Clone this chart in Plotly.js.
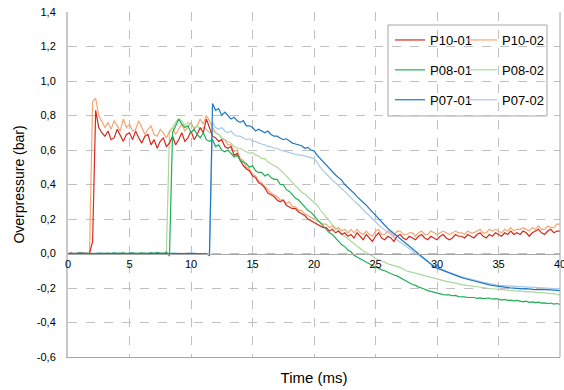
<!DOCTYPE html>
<html>
<head>
<meta charset="utf-8">
<script src="https://cdn.plot.ly/plotly-3.0.1.min.js"></script>
<style>html,body{margin:0;padding:0;background:#fff;}#chart{width:564px;height:390px;}</style>
</head>
<body>
<div id="chart"></div>
<script>
// Sampling times (ms)
const time = [
0,0.25,0.5,0.75, 1,1.25,1.5,1.75, 2,2.25,2.5,2.75, 3,3.25,3.5,3.75, 4,4.25,4.5,4.75,
5,5.25,5.5,5.75, 6,6.25,6.5,6.75, 7,7.25,7.5,7.75, 8,8.25,8.5,8.75, 9,9.25,9.5,9.75,
10,10.25,10.5,10.75, 11,11.25,11.5,11.75, 12,12.25,12.5,12.75, 13,13.25,13.5,13.75, 14,14.25,14.5,14.75,
15,15.25,15.5,15.75, 16,16.25,16.5,16.75, 17,17.25,17.5,17.75, 18,18.25,18.5,18.75, 19,19.25,19.5,19.75,
20,20.25,20.5,20.75, 21,21.25,21.5,21.75, 22,22.25,22.5,22.75, 23,23.25,23.5,23.75, 24,24.25,24.5,24.75,
25,25.25,25.5,25.75, 26,26.25,26.5,26.75, 27,27.25,27.5,27.75, 28,28.25,28.5,28.75, 29,29.25,29.5,29.75,
30,30.25,30.5,30.75, 31,31.25,31.5,31.75, 32,32.25,32.5,32.75, 33,33.25,33.5,33.75, 34,34.25,34.5,34.75,
35,35.25,35.5,35.75, 36,36.25,36.5,36.75, 37,37.25,37.5,37.75, 38,38.25,38.5,38.75, 39,39.25,39.5,39.75,
40];

const seriesNames = ['P10-01','P10-02','P08-01','P08-02','P07-01','P07-02'];

const p10_01 = [
0,0.002,-0.001,0.001, 0,0.002,0,0.001, 0.07,0.83,0.73,0.70, 0.68,0.71,0.66,0.67, 0.72,0.68,0.65,0.69,
0.70,0.66,0.71,0.67, 0.64,0.68,0.69,0.63, 0.66,0.61,0.65,0.67, 0.62,0.64,0.68,0.63, 0.66,0.70,0.65,0.67,
0.71,0.66,0.69,0.73, 0.70,0.78,0.73,0.68, 0.67,0.65,0.66,0.62, 0.61,0.62,0.57,0.58, 0.54,0.51,0.49,0.48,
0.45,0.44,0.41,0.40, 0.38,0.35,0.34,0.33, 0.31,0.30,0.31,0.28, 0.27,0.26,0.26,0.24, 0.23,0.22,0.20,0.19,
0.18,0.17,0.16,0.15, 0.15,0.13,0.14,0.12, 0.13,0.11,0.12,0.10, 0.11,0.09,0.12,0.10, 0.08,0.11,0.09,0.07,
0.10,0.12,0.09,0.08, 0.10,0.09,0.07,0.10, 0.11,0.09,0.08,0.10, 0.09,0.08,0.10,0.11, 0.09,0.08,0.10,0.09,
0.08,0.10,0.11,0.09, 0.08,0.09,0.11,0.10, 0.10,0.09,0.11,0.10, 0.09,0.11,0.12,0.10, 0.09,0.11,0.10,0.12,
0.11,0.10,0.12,0.11, 0.13,0.11,0.12,0.11, 0.13,0.12,0.10,0.12, 0.13,0.14,0.12,0.11, 0.13,0.14,0.12,0.13,
0.13];

const p10_02 = [
0,0.001,0.002,0, 0.001,0,0.002,0.001, 0.88,0.90,0.80,0.76, 0.73,0.76,0.72,0.77, 0.74,0.71,0.78,0.73,
0.75,0.71,0.72,0.77, 0.73,0.69,0.72,0.74, 0.69,0.68,0.72,0.70, 0.67,0.71,0.73,0.69, 0.72,0.75,0.71,0.73,
0.76,0.72,0.74,0.78, 0.75,0.80,0.77,0.73, 0.70,0.69,0.67,0.66, 0.63,0.63,0.59,0.60, 0.55,0.54,0.50,0.49,
0.46,0.45,0.42,0.41, 0.39,0.37,0.35,0.34, 0.33,0.31,0.31,0.29, 0.30,0.27,0.27,0.25, 0.25,0.23,0.22,0.21,
0.20,0.19,0.18,0.17, 0.17,0.15,0.16,0.14, 0.15,0.13,0.14,0.12, 0.14,0.12,0.14,0.12, 0.11,0.13,0.11,0.10,
0.13,0.14,0.11,0.11, 0.13,0.12,0.10,0.13, 0.13,0.11,0.11,0.12, 0.12,0.10,0.12,0.13, 0.11,0.11,0.13,0.12,
0.11,0.12,0.13,0.12, 0.11,0.12,0.13,0.12, 0.12,0.11,0.13,0.12, 0.12,0.13,0.14,0.12, 0.12,0.14,0.13,0.14,
0.13,0.12,0.14,0.13, 0.15,0.13,0.14,0.14, 0.15,0.14,0.13,0.15, 0.14,0.16,0.14,0.14, 0.16,0.15,0.15,0.17,
0.17];

const p08_01 = [
0,0.002,-0.002,0.001, 0.003,-0.001,0.002,0, 0.001,-0.002,0.003,0.001, -0.001,0.002,0,0.003, -0.002,0.001,0.003,-0.001,
0.002,0.004,-0.002,0.001, 0.003,-0.003,0.002,0.005, -0.002,0.006,0.001,-0.004, 0.008,-0.015,0.70,0.74, 0.78,0.75,0.73,0.74,
0.70,0.72,0.69,0.67, 0.70,0.66,0.65,0.66, 0.62,0.63,0.60,0.59, 0.60,0.58,0.56,0.57, 0.54,0.53,0.52,0.50,
0.51,0.48,0.47,0.47, 0.45,0.46,0.44,0.43, 0.43,0.40,0.40,0.37, 0.36,0.34,0.32,0.31, 0.29,0.27,0.25,0.24,
0.22,0.20,0.18,0.16, 0.14,0.12,0.11,0.09, 0.07,0.05,0.04,0.02, 0.01,-0.01,-0.02,-0.03, -0.04,-0.05,-0.06,-0.07,
-0.08,-0.085,-0.095,-0.10, -0.11,-0.115,-0.125,-0.13, -0.14,-0.15,-0.16,-0.17, -0.18,-0.185,-0.195,-0.20, -0.21,-0.215,-0.22,-0.225,
-0.23,-0.232,-0.238,-0.24, -0.24,-0.245,-0.243,-0.25, -0.25,-0.252,-0.255,-0.253, -0.255,-0.26,-0.257,-0.262, -0.26,-0.258,-0.265,-0.262,
-0.265,-0.27,-0.266,-0.272, -0.27,-0.275,-0.272,-0.278, -0.28,-0.276,-0.283,-0.28, -0.285,-0.282,-0.288,-0.286, -0.29,-0.287,-0.293,-0.29,
-0.295];

const p08_02 = [
0,-0.001,0.002,0, 0.001,0.002,-0.001,0.001, 0,0.002,0.001,-0.001, 0.002,0,0.001,0.002, -0.001,0.002,0,0.001,
0.002,-0.001,0.003,0, 0.001,0.003,-0.002,0.002, 0.004,-0.001,0.003,0.005, 0.002,0.70,0.73,0.76, 0.78,0.77,0.74,0.76,
0.75,0.73,0.74,0.72, 0.73,0.72,0.70,0.71, 0.70,0.69,0.67,0.66, 0.65,0.64,0.62,0.61, 0.61,0.60,0.59,0.58,
0.585,0.57,0.565,0.55, 0.55,0.53,0.52,0.51, 0.50,0.485,0.47,0.45, 0.43,0.41,0.39,0.37, 0.355,0.345,0.33,0.315,
0.30,0.28,0.255,0.23, 0.21,0.19,0.165,0.15, 0.13,0.115,0.10,0.085, 0.07,0.055,0.04,0.025, 0.015,0.005,-0.005,-0.015,
-0.03,-0.035,-0.045,-0.05, -0.06,-0.063,-0.07,-0.075, -0.08,-0.09,-0.10,-0.105, -0.11,-0.115,-0.12,-0.125, -0.13,-0.135,-0.14,-0.145,
-0.15,-0.153,-0.158,-0.162, -0.165,-0.17,-0.172,-0.176, -0.18,-0.182,-0.186,-0.188, -0.19,-0.194,-0.196,-0.198, -0.20,-0.203,-0.205,-0.207,
-0.21,-0.211,-0.213,-0.212, -0.215,-0.216,-0.218,-0.217, -0.22,-0.222,-0.221,-0.224, -0.225,-0.227,-0.226,-0.229, -0.23,-0.233,-0.232,-0.236,
-0.24];

const p07_01 = [
0,0.001,-0.001,0, 0.001,0,-0.001,0.001, 0,-0.001,0.001,0, 0.001,0,-0.001,0.001, 0,0.001,0,-0.001,
0.001,0,0.001,-0.001, 0,0.001,-0.001,0, 0.001,0,0.001,-0.001, 0,-0.001,0.001,0, 0.001,-0.002,0,0.001,
-0.001,0.001,0,-0.001, 0.001,-0.002,-0.012,0.87, 0.83,0.84,0.80,0.82, 0.80,0.78,0.79,0.77, 0.76,0.77,0.74,0.74,
0.73,0.71,0.72,0.71, 0.70,0.71,0.69,0.68, 0.68,0.67,0.66,0.665, 0.65,0.64,0.635,0.63, 0.625,0.61,0.615,0.60,
0.595,0.57,0.55,0.53, 0.51,0.49,0.47,0.455, 0.44,0.425,0.40,0.385, 0.37,0.35,0.33,0.315, 0.30,0.28,0.26,0.24,
0.22,0.20,0.18,0.16, 0.145,0.13,0.115,0.10, 0.09,0.075,0.06,0.045, 0.03,0.015,0.0,-0.015, -0.03,-0.045,-0.06,-0.075,
-0.085,-0.092,-0.10,-0.108, -0.115,-0.12,-0.13,-0.135, -0.14,-0.145,-0.15,-0.155, -0.16,-0.165,-0.17,-0.173, -0.18,-0.182,-0.185,-0.188,
-0.19,-0.192,-0.195,-0.197, -0.20,-0.201,-0.203,-0.202, -0.205,-0.204,-0.207,-0.208, -0.21,-0.209,-0.211,-0.21, -0.21,-0.212,-0.214,-0.213,
-0.215];

const p07_02 = [
0,-0.001,0.001,0, -0.001,0.001,0,0.001, -0.001,0,0.001,-0.001, 0,0.001,-0.001,0, 0.001,0,-0.001,0.001,
0,0.001,0,-0.001, 0.001,-0.001,0,0.001, 0,0.001,-0.001,0, 0.001,0,-0.001,0.002, -0.001,0,0.001,-0.001,
0.001,0,-0.001,0.001, 0,0.001,-0.005,0.76, 0.73,0.72,0.73,0.71, 0.70,0.71,0.69,0.68, 0.68,0.67,0.66,0.665,
0.65,0.65,0.64,0.635, 0.63,0.62,0.62,0.61, 0.61,0.60,0.595,0.59, 0.585,0.58,0.575,0.57, 0.57,0.565,0.56,0.555,
0.55,0.53,0.50,0.48, 0.46,0.44,0.425,0.41, 0.39,0.375,0.36,0.34, 0.32,0.305,0.29,0.27, 0.25,0.235,0.22,0.20,
0.18,0.165,0.15,0.135, 0.12,0.11,0.095,0.08, 0.065,0.055,0.04,0.03, 0.015,0.0,-0.01,-0.025, -0.035,-0.05,-0.06,-0.07,
-0.08,-0.088,-0.095,-0.103, -0.11,-0.117,-0.125,-0.13, -0.135,-0.14,-0.145,-0.15, -0.155,-0.16,-0.165,-0.167, -0.17,-0.175,-0.18,-0.182,
-0.185,-0.186,-0.188,-0.19, -0.19,-0.192,-0.194,-0.193, -0.195,-0.197,-0.196,-0.199, -0.20,-0.199,-0.201,-0.20, -0.20,-0.202,-0.203,-0.204,
-0.205];

const xTickVals = [0,5,10,15,20,25,30,35,40];
const xTickText = ['0','5','10','15','20','25','30','35','40'];
const yTickVals = [-0.6,-0.4,-0.2,0,0.2,0.4,0.6,0.8,1.0,1.2,1.4];
const yTickText = ['-0,6','-0,4','-0,2','0,0','0,2','0,4','0,6','0,8','1,0','1,2','1,4'];

const seriesValues = [p10_01,p10_02,p08_01,p08_02,p07_01,p07_02];
const colors = ['#d42a20','#f5a672','#1fae55','#acd79c','#1c78c6','#aac9ea'];
const legendIds = ['legend','legend2','legend','legend2','legend','legend2'];
const xAxisIds = ['x2','x','x2','x','x2','x'];

const traces = seriesNames.map((n,i)=>({
  type:'scatter', mode:'lines', name:n, x:time, y:seriesValues[i],
  xaxis:xAxisIds[i], yaxis:'y',
  line:{color:colors[i], width:1.2}, legend:legendIds[i], legendgroup:n,
  hoverinfo:'skip'
}));

const gridCol = '#c0c0c0';
const legendCommon = {
  yanchor:'top', y:0.9623, xanchor:'left', bgcolor:'rgba(0,0,0,0)', borderwidth:0,
  font:{size:13, color:'#000'}, tracegroupgap:10, itemwidth:30, orientation:'v'
};

const layout = {
  width:564, height:390,
  margin:{l:68, r:4, t:12, b:33},
  paper_bgcolor:'#ffffff', plot_bgcolor:'#ffffff',
  font:{family:'"Liberation Sans", Arial, sans-serif', size:11, color:'#000'},
  showlegend:true,
  xaxis:{
    range:[0,40], tickmode:'array', tickvals:xTickVals, anchor:'y', side:'bottom',
    showticklabels:false, ticks:'',
    showline:true, linecolor:'#a6a6a6', linewidth:1,
    showgrid:true, gridcolor:gridCol, griddash:'dash', gridwidth:1, zeroline:false,
    title:{text:'Time (ms)', font:{size:15, color:'#000'}, standoff:15}
  },
  xaxis2:{
    overlaying:'x', range:[0,40], tickmode:'array', tickvals:xTickVals, ticktext:xTickText,
    anchor:'free', position:0.3, showline:true, linecolor:'#a6a6a6', linewidth:1.5,
    showgrid:false, zeroline:false, ticks:'', ticklabeloverflow:'allow',
    tickfont:{size:11, color:'#000'}
  },
  yaxis:{
    range:[-0.6,1.4], tickmode:'array', tickvals:yTickVals, ticktext:yTickText,
    showgrid:true, gridcolor:gridCol, griddash:'dash', gridwidth:1, zeroline:false,
    showline:true, linecolor:'#c8c8c8', linewidth:2, ticks:'', ticklabelstandoff:8,
    tickfont:{size:11, color:'#000'},
    title:{text:'Overpressure (bar)', font:{size:14, color:'#000'}, standoff:9}
  },
  legend:Object.assign({}, legendCommon, {x:0.6545}),
  legend2:Object.assign({}, legendCommon, {x:0.8008}),
  shapes:[
    {type:'rect', xref:'paper', yref:'paper', x0:0.6504, x1:0.9736, y0:0.6986, y1:0.9623,
     line:{color:'#a6a6a6', width:1}, fillcolor:'#ffffff', layer:'below'},
    {type:'line', xref:'paper', yref:'paper', x0:1, x1:1, y0:0, y1:1,
     line:{color:'#a6a6a6', width:1}}
  ]
};

Plotly.newPlot('chart', traces, layout, {staticPlot:true, displayModeBar:false});
</script>
</body>
</html>
